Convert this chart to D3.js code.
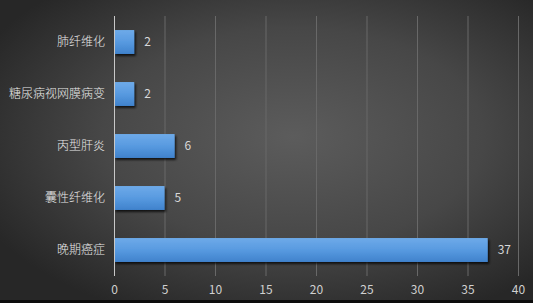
<!DOCTYPE html>
<html><head><meta charset="utf-8">
<script src="https://cdn.jsdelivr.net/npm/d3@7"></script>
<style>html,body{margin:0;padding:0;background:#2a2a2a;overflow:hidden}</style>
</head><body>
<svg id="c" width="533" height="303"></svg>
<script>
const categories = ["肺纤维化","糖尿病视网膜病变","丙型肝炎","囊性纤维化","晚期癌症"];
const values = [2,2,6,5,37];
const xTicks = [0,5,10,15,20,25,30,35,40];

const W=533,H=303;
const svg=d3.select("#c");
const defs=svg.append("defs");
const rg=defs.append("radialGradient").attr("id","bg").attr("cx","55%").attr("cy","45%").attr("r","65%");
rg.append("stop").attr("offset","0%").attr("stop-color","#5c5c5c");
rg.append("stop").attr("offset","55%").attr("stop-color","#474747");
rg.append("stop").attr("offset","100%").attr("stop-color","#272727");
const bg=defs.append("linearGradient").attr("id","bar").attr("x1",0).attr("y1",0).attr("x2",0).attr("y2",1);
bg.append("stop").attr("offset","0%").attr("stop-color","#6eaae9");
bg.append("stop").attr("offset","50%").attr("stop-color","#589ae0");
bg.append("stop").attr("offset","100%").attr("stop-color","#3f82cc");
const f=defs.append("filter").attr("id","sh").attr("x","-10%").attr("y","-30%").attr("width","130%").attr("height","180%");
f.append("feDropShadow").attr("dx",1.5).attr("dy",2).attr("stdDeviation",1.2).attr("flood-color","#000").attr("flood-opacity",0.75);

svg.append("rect").attr("width",W).attr("height",H).attr("fill","url(#bg)");
svg.append("rect").attr("y",300).attr("width",W).attr("height",3).attr("fill","#0c0c0c");

const x=d3.scaleLinear().domain([0,40]).range([114,518]);
const y=d3.scaleBand().domain(categories).range([16,276]).paddingInner(0.54).paddingOuter(0.27);

// gridlines
svg.append("g").selectAll("line").data(xTicks.slice(1)).join("line")
  .attr("x1",d=>x(d)+0.5).attr("x2",d=>x(d)+0.5).attr("y1",16).attr("y2",276)
  .attr("stroke","#686868").attr("stroke-width",1);

// bars
svg.append("g").selectAll("rect").data(values).join("rect")
  .attr("x",x(0)).attr("y",(d,i)=>y(categories[i]))
  .attr("width",d=>x(d)-x(0)).attr("height",y.bandwidth())
  .attr("fill","url(#bar)").attr("filter","url(#sh)");

// axis line
svg.append("line").attr("x1",x(0)+0.5).attr("x2",x(0)+0.5).attr("y1",16).attr("y2",276)
  .attr("stroke","#c8c8c8").attr("stroke-width",1);

const font="'Microsoft YaHei','Noto Sans CJK SC',sans-serif";
// x tick labels
const xa=d3.axisBottom(x).tickValues(xTicks).tickSize(0).tickPadding(0);
const gx=svg.append("g").attr("transform","translate(0,285)").call(xa);
gx.select(".domain").remove();
gx.selectAll("text").attr("fill","#d0d0d0").attr("font-size",12).attr("font-family",font).attr("dy","0.71em");

// category labels
const ya=d3.axisLeft(y).tickSize(0).tickPadding(9);
const gy=svg.append("g").attr("transform",`translate(${x(0)},0)`).call(ya);
gy.select(".domain").remove();
gy.selectAll("text").attr("fill","#e8e8e8").attr("font-size",12).attr("font-weight",300).attr("font-family",font);

// value labels
svg.append("g").selectAll("text").data(values).join("text")
  .attr("x",d=>x(d)+10).attr("y",(d,i)=>y(categories[i])+y.bandwidth()/2)
  .attr("dy","0.35em").attr("fill","#d8d8d8").attr("font-size",12).attr("font-family",font)
  .text(d=>d);
</script>
</body></html>
